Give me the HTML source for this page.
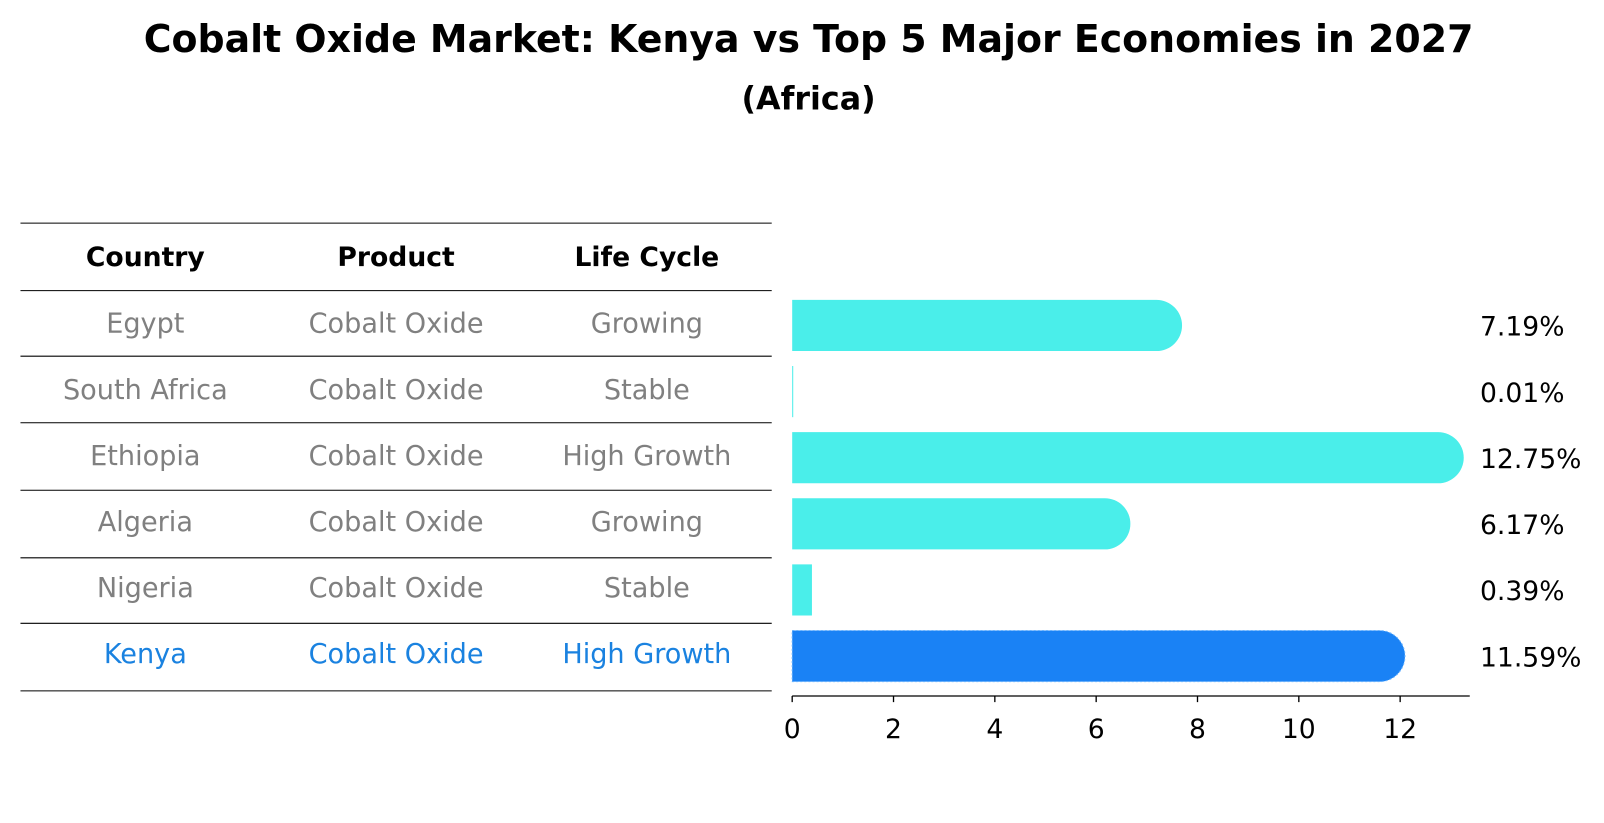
<!DOCTYPE html>
<html><head><meta charset="utf-8"><style>
body{margin:0;background:#fff;}
#wrap{position:relative;width:1604px;height:823px;overflow:hidden;}
</style></head><body>
<div id="wrap">
<svg id="svg" width="1604" height="823" font-family="'DejaVu Sans', 'Liberation Sans', sans-serif">
<g transform="scale(1.0235)">
<text x="790" y="51" text-anchor="middle" font-size="37" font-weight="bold">Cobalt Oxide Market: Kenya vs Top 5 Major Economies in 2027</text>
<text x="790" y="107" text-anchor="middle" font-size="31" font-weight="bold">(Africa)</text>
<g id="table"></g>
<g id="bars"></g>
</g>
</svg>
</div>
<script>
const countries=["Egypt","South Africa","Ethiopia","Algeria","Nigeria","Kenya"];
const products=["Cobalt Oxide","Cobalt Oxide","Cobalt Oxide","Cobalt Oxide","Cobalt Oxide","Cobalt Oxide"];
const lifeCycles=["Growing","Stable","High Growth","Growing","Stable","High Growth"];
const values=[7.19,0.01,12.75,6.17,0.39,11.59];
const xTicks=[0,2,4,6,8,10,12];
const NS="http://www.w3.org/2000/svg";
function mk(tag,attrs,parent){const e=document.createElementNS(NS,tag);for(const k in attrs)e.setAttribute(k,attrs[k]);parent.appendChild(e);return e;}
const table=document.getElementById('table'),bars=document.getElementById('bars');
const lineYs=[218,284,348,413,479,545,609,675];
lineYs.forEach(y=>{const l=mk('line',{x1:20,x2:754,y1:y,y2:y,stroke:'#000','stroke-width':1},table);

});
const colX=[142,387,632];
["Country","Product","Life Cycle"].forEach((h,i)=>{const t=mk('text',{x:colX[i],y:260,'text-anchor':'middle','font-size':26,'font-weight':'bold'},table);t.textContent=h;

});
const x0=774,unit=49.5;
function xs(v){return x0+v*unit;}
function rowY(i){return 316+i*64.6;}
countries.forEach((c,i)=>{
 const last=i===countries.length-1;
 const col=last?'#1a82e0':'#808080';
 [c,products[i],lifeCycles[i]].forEach((s,j)=>{const t=mk('text',{x:colX[j],y:rowY(i)+9,'text-anchor':'middle','font-size':26.5,fill:col},table);t.textContent=s;
 
 });
 const v=values[i],cy=rowY(i)+2,h=50,r=h/2,fill=last?'#1a82f5':'#4aeeea';
 const xv=Math.max(xs(v),x0+1);
 let d;
 if(v>1) d=`M${x0},${cy-r} H${xv} A${r},${r} 0 0 1 ${xv},${cy+r} H${x0} Z`;
 else d=`M${x0},${cy-r} H${xv} V${cy+r} H${x0} Z`;
 const p=mk('path',{d:d,fill:fill},bars);
 if(last){p.setAttribute('stroke','#6ab4ff');p.setAttribute('stroke-width','1');p.setAttribute('stroke-dasharray','2,2');}
 
 
 const lb=mk('text',{x:1446,y:cy+10,'font-size':26},bars);lb.textContent=v.toFixed(2)+'%';
 
 
});
const ax=mk('line',{x1:x0,x2:1436,y1:680,y2:680,stroke:'#000','stroke-width':1.3},bars);


xTicks.forEach(t=>{mk('line',{x1:xs(t),x2:xs(t),y1:680,y2:686,stroke:'#000','stroke-width':1.3},bars);
 const tx=mk('text',{x:xs(t),y:721,'text-anchor':'middle','font-size':26},bars);tx.textContent=t;
 
 });
</script>
</body></html>
